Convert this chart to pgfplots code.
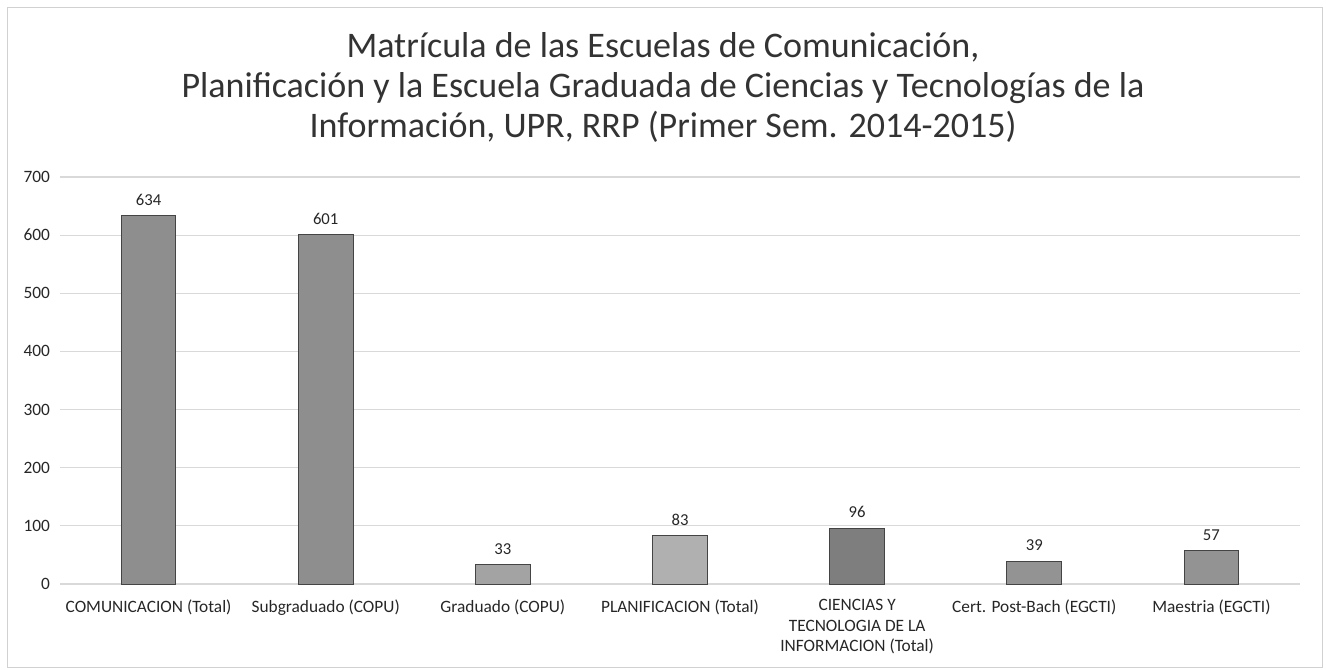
\documentclass[border=0pt]{standalone}
\usepackage{fontspec}
\setmainfont{Carlito}
\usepackage{pgfplots}
\pgfplotsset{compat=1.18}
\definecolor{barA}{HTML}{8E8E8E}
\definecolor{barB}{HTML}{A3A3A3}
\definecolor{barC}{HTML}{B0B0B0}
\definecolor{barD}{HTML}{7E7E7E}
\definecolor{barE}{HTML}{939393}
\definecolor{edgeC}{HTML}{444444}
\definecolor{gridC}{HTML}{D9D9D9}
\begin{document}
\begin{tikzpicture}
\path[use as bounding box] (0pt,0pt) rectangle (994.5pt,-502.5pt);
\draw[black!18, line width=0.6pt] (5.25pt,-5.25pt) rectangle (991.5pt,-500.25pt);
\node[align=center, font=\fontsize{27}{30}\selectfont, text=black!80] at (497.25pt,-65.5pt)
  {Matrícula de las Escuelas de Comunicación,\\
   Planificación y la Escuela Graduada de Ciencias y Tecnologías de la\\
   Información, UPR, RRP (Primer Sem. 2014-2015)};
\begin{axis}[
  at={(45pt,-438pt)}, anchor=south west,
  scale only axis, width=930pt, height=305.25pt,
  xmin=-0.5, xmax=6.5, ymin=0, ymax=700,
  ytick={0,100,...,700},
  xtick={0,...,6},
  xticklabels={COMUNICACION (Total),Subgraduado (COPU),Graduado (COPU),PLANIFICACION (Total),{CIENCIAS Y\\TECNOLOGIA DE LA\\INFORMACION (Total)},Cert. Post-Bach (EGCTI),Maestria (EGCTI)},
  xticklabel style={align=center, font=\fontsize{13}{15.4}\selectfont, text=black!85, anchor=north, yshift=-8pt},
  yticklabel style={font=\fontsize{13}{15}\selectfont, text=black!85, xshift=-4pt},
  /pgf/number format/assume math mode=true,
  major tick length=0pt,
  axis line style={draw=none},
  ymajorgrids, grid style={gridC, line width=0.8pt},
  ybar, bar width=41pt, bar shift=0pt,
  nodes near coords,
  every node near coord/.append style={font=\fontsize{12.5}{15}\selectfont, text=black!85, yshift=4pt},
  clip=false,
]
\addplot[fill=barA, draw=edgeC, line width=0.7pt] coordinates {(0,634)};
\addplot[fill=barA, draw=edgeC, line width=0.7pt] coordinates {(1,601)};
\addplot[fill=barB, draw=edgeC, line width=0.7pt] coordinates {(2,33)};
\addplot[fill=barC, draw=edgeC, line width=0.7pt] coordinates {(3,83)};
\addplot[fill=barD, draw=edgeC, line width=0.7pt] coordinates {(4,96)};
\addplot[fill=barE, draw=edgeC, line width=0.7pt] coordinates {(5,39)};
\addplot[fill=barE, draw=edgeC, line width=0.7pt] coordinates {(6,57)};
\end{axis}
\end{tikzpicture}
\end{document}
